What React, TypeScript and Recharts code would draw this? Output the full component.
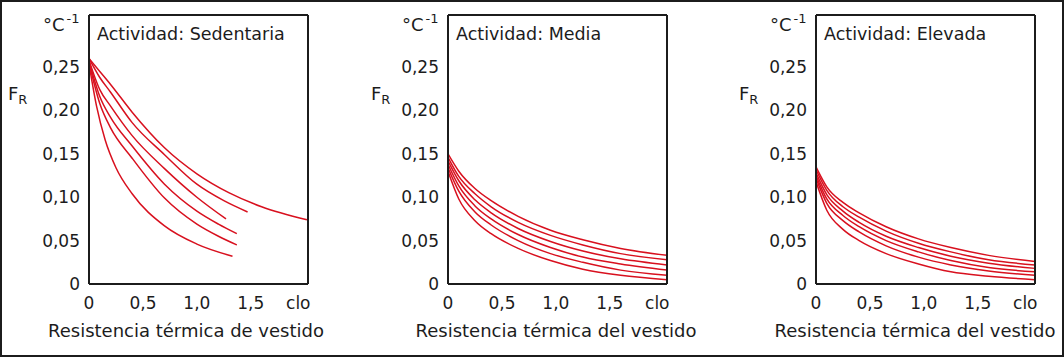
import { LineChart, Line, XAxis, YAxis } from "recharts";

// --- data (x in clo, y in °C^-1) ---
const yTicks = [0, 0.05, 0.1, 0.15, 0.2, 0.25];
const yTickLabels = ["0", "0,05", "0,10", "0,15", "0,20", "0,25"];
const xTicks = [0, 0.5, 1, 1.5, 1.94];
const xTickLabels = ["0", "0,5", "1,0", "1,5", "clo"];

// Actividad: Sedentaria, each curve has its own length
const sedAx = [0, 0.1, 0.2, 0.4, 0.7, 1.0, 1.3, 1.6, 2.02];
const sedAy = [0.26, 0.245, 0.23, 0.198, 0.157, 0.127, 0.105, 0.089, 0.074];
const sedBx = [0, 0.1, 0.2, 0.4, 0.7, 1.0, 1.25, 1.47];
const sedBy = [0.26, 0.238, 0.221, 0.186, 0.149, 0.115, 0.096, 0.083];
const sedCx = [0, 0.1, 0.2, 0.4, 0.7, 1.0, 1.27];
const sedCy = [0.258, 0.224, 0.205, 0.171, 0.133, 0.1, 0.075];
const sedDx = [0, 0.1, 0.2, 0.4, 0.7, 1.0, 1.2, 1.37];
const sedDy = [0.257, 0.216, 0.192, 0.159, 0.115, 0.084, 0.069, 0.058];
const sedEx = [0, 0.1, 0.2, 0.4, 0.7, 1.0, 1.2, 1.37];
const sedEy = [0.255, 0.208, 0.18, 0.145, 0.099, 0.069, 0.055, 0.045];
const sedFx = [0, 0.07, 0.15, 0.25, 0.4, 0.7, 1.0, 1.33];
const sedFy = [0.254, 0.205, 0.166, 0.134, 0.104, 0.067, 0.046, 0.032];

// Actividad: Media / Elevada share the x positions
const curveX = [0, 0.1, 0.25, 0.4, 0.65, 0.95, 1.25, 1.6, 2.03];
const media1 = [0.15, 0.13, 0.11, 0.096, 0.078, 0.062, 0.051, 0.041, 0.033];
const media2 = [0.146, 0.124, 0.104, 0.089, 0.071, 0.056, 0.045, 0.035, 0.028];
const media3 = [0.142, 0.119, 0.097, 0.082, 0.064, 0.049, 0.038, 0.029, 0.022];
const media4 = [0.138, 0.113, 0.09, 0.075, 0.057, 0.042, 0.031, 0.023, 0.016];
const media5 = [0.134, 0.107, 0.083, 0.068, 0.05, 0.035, 0.025, 0.016, 0.01];
const media6 = [0.13, 0.098, 0.073, 0.058, 0.041, 0.027, 0.017, 0.01, 0.005];

const elev1 = [0.135, 0.112, 0.094, 0.082, 0.066, 0.052, 0.042, 0.033, 0.026];
const elev2 = [0.132, 0.108, 0.089, 0.077, 0.061, 0.047, 0.037, 0.028, 0.022];
const elev3 = [0.128, 0.103, 0.084, 0.071, 0.055, 0.042, 0.032, 0.024, 0.018];
const elev4 = [0.125, 0.098, 0.079, 0.066, 0.05, 0.037, 0.027, 0.019, 0.014];
const elev5 = [0.122, 0.093, 0.073, 0.06, 0.044, 0.031, 0.022, 0.015, 0.01];
const elev6 = [0.118, 0.085, 0.063, 0.05, 0.035, 0.023, 0.014, 0.009, 0.005];

const RED = "#d8101e";
const INK = "#1c1c1c";
const X_MAX = 2.03;
const Y_MAX = 0.31;

type Pt = { x: number; y: number };
const pts = (xs: number[], ys: number[]): Pt[] => xs.map((x, i) => ({ x, y: ys[i] }));

const panels = [
  {
    title: "Actividad: Sedentaria",
    xTitle: "Resistencia térmica de vestido",
    chartLeft: 0,
    boxLeft: 89,
    frX: 8,
    xTitleCenter: 186,
    curves: [
      pts(sedAx, sedAy),
      pts(sedBx, sedBy),
      pts(sedCx, sedCy),
      pts(sedDx, sedDy),
      pts(sedEx, sedEy),
      pts(sedFx, sedFy),
    ],
  },
  {
    title: "Actividad: Media",
    xTitle: "Resistencia térmica del vestido",
    chartLeft: 359,
    boxLeft: 448,
    frX: 371,
    xTitleCenter: 556,
    curves: [media1, media2, media3, media4, media5, media6].map((ys) => pts(curveX, ys)),
  },
  {
    title: "Actividad: Elevada",
    xTitle: "Resistencia térmica del vestido",
    chartLeft: 727,
    boxLeft: 816,
    frX: 739,
    xTitleCenter: 915,
    curves: [elev1, elev2, elev3, elev4, elev5, elev6].map((ys) => pts(curveX, ys)),
  },
];

const W = 350;
const H = 357;
const Y_AXIS_W = 60;
const X_AXIS_H = 40;
const BOX_TOP = 15;
const BOX_BOTTOM = 284;
const BOX_W = 219;

function Panel({ p }: { p: (typeof panels)[number] }) {
  const margin = {
    top: BOX_TOP - 1,
    left: p.boxLeft - p.chartLeft - Y_AXIS_W,
    right: W - (p.boxLeft - p.chartLeft + BOX_W) - 1,
    bottom: H - BOX_BOTTOM - X_AXIS_H,
  };
  const tickStyle = { fontSize: 17, fill: INK, fontFamily: "DejaVu Sans" };
  return (
    <div style={{ position: "absolute", left: p.chartLeft, top: 0 }}>
      <LineChart width={W} height={H} margin={margin}>
        <XAxis
          dataKey="x"
          type="number"
          domain={[0, X_MAX]}
          ticks={xTicks}
          interval={0}
          tickFormatter={(_v, i) => xTickLabels[i]}
          tick={tickStyle}
          tickSize={0}
          tickMargin={13}
          height={X_AXIS_H}
          axisLine={{ stroke: INK, strokeWidth: 2 }}
          allowDataOverflow
        />
        <XAxis
          xAxisId="top"
          orientation="top"
          type="number"
          domain={[0, X_MAX]}
          tick={false}
          tickLine={false}
          height={1}
          axisLine={{ stroke: INK, strokeWidth: 2 }}
        />
        <YAxis
          type="number"
          domain={[0, Y_MAX]}
          ticks={yTicks}
          interval={0}
          tickFormatter={(_v, i) => yTickLabels[i]}
          tick={tickStyle}
          tickSize={0}
          tickMargin={9}
          width={Y_AXIS_W}
          axisLine={{ stroke: INK, strokeWidth: 2 }}
          allowDataOverflow
        />
        <YAxis
          yAxisId="right"
          orientation="right"
          type="number"
          domain={[0, Y_MAX]}
          tick={false}
          tickLine={false}
          width={1}
          axisLine={{ stroke: INK, strokeWidth: 2 }}
        />
        {p.curves.map((c, i) => (
          <Line
            key={i}
            data={c}
            dataKey="y"
            type="monotone"
            stroke={RED}
            strokeWidth={1.5}
            dot={false}
            isAnimationActive={false}
          />
        ))}
      </LineChart>
    </div>
  );
}

export default function App() {
  return (
    <div
      style={{
        position: "absolute",
        left: 0,
        top: 0,
        width: 1064,
        height: 357,
        background: "#fff",
        fontFamily: "DejaVu Sans, sans-serif",
        color: INK,
      }}
    >
      {panels.map((p) => (
        <Panel key={p.title} p={p} />
      ))}
      <svg
        width={1064}
        height={357}
        style={{ position: "absolute", left: 0, top: 0, pointerEvents: "none" }}
        fontFamily="DejaVu Sans"
        fill={INK}
      >
        {panels.map((p) => (
          <g key={p.title}>
            <text x={p.boxLeft - 46} y={31} fontSize={18}>
              °C
              <tspan dx={2} dy={-8} fontSize={13}>
                -1
              </tspan>
            </text>
            <text x={p.frX} y={100} fontSize={18}>
              F
              <tspan dy={4} fontSize={13}>
                R
              </tspan>
            </text>
            <text x={p.boxLeft + 8} y={40} fontSize={17.5}>
              {p.title}
            </text>
            <text x={p.xTitleCenter} y={337} fontSize={18} textAnchor="middle">
              {p.xTitle}
            </text>
          </g>
        ))}
      </svg>
      <div
        style={{
          position: "absolute",
          left: 0,
          top: 0,
          width: 1064,
          height: 357,
          boxSizing: "border-box",
          border: `2px solid ${INK}`,
          pointerEvents: "none",
        }}
      />
    </div>
  );
}
